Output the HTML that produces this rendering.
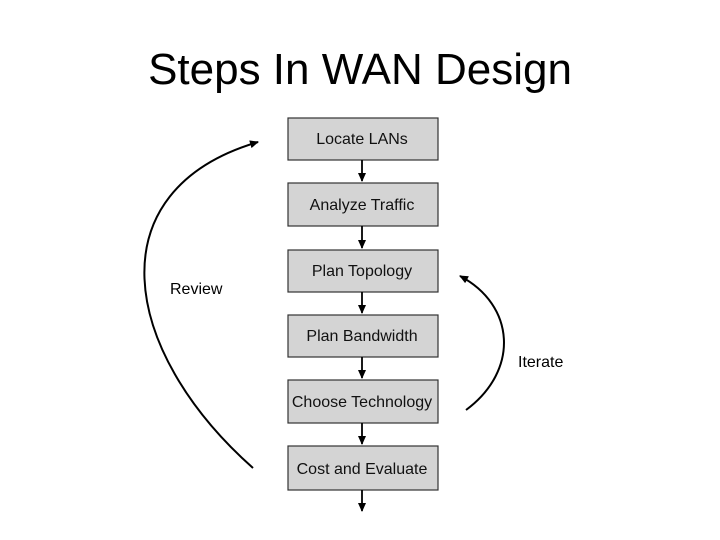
<!DOCTYPE html>
<html><head><style>
body{margin:0;background:#fff;}
svg{display:block}
text{font-family:"Liberation Sans",sans-serif;}
</style></head><body>
<svg width="720" height="540" viewBox="0 0 720 540">
<defs><marker id="a" markerWidth="10" markerHeight="10" refX="8" refY="5" orient="auto" markerUnits="userSpaceOnUse"><path d="M0,1 L9,5 L0,9 z" fill="#000"/></marker></defs>
<text x="360" y="84" font-size="44" text-anchor="middle">Steps In WAN Design</text>
<g fill="#d4d4d4" stroke="#333" stroke-width="1.2">
<rect x="288" y="118" width="150" height="42"/>
<rect x="288" y="183" width="150" height="43"/>
<rect x="288" y="250" width="150" height="42"/>
<rect x="288" y="315" width="150" height="42"/>
<rect x="288" y="380" width="150" height="43"/>
<rect x="288" y="446" width="150" height="44"/>
</g>
<g font-size="16" text-anchor="middle" fill="#111">
<text x="362" y="144">Locate LANs</text>
<text x="362" y="210">Analyze Traffic</text>
<text x="362" y="276">Plan Topology</text>
<text x="362" y="341">Plan Bandwidth</text>
<text x="362" y="407">Choose Technology</text>
<text x="362" y="474">Cost and Evaluate</text>
</g>
<g stroke="#000" stroke-width="1.8" marker-end="url(#a)">
<line x1="362" y1="160" x2="362" y2="181"/>
<line x1="362" y1="226" x2="362" y2="248"/>
<line x1="362" y1="292" x2="362" y2="313"/>
<line x1="362" y1="357" x2="362" y2="378"/>
<line x1="362" y1="423" x2="362" y2="444"/>
<line x1="362" y1="490" x2="362" y2="511"/>
</g>
<g fill="none" stroke="#000" stroke-width="2" marker-end="url(#a)">
<path d="M253,468 C120,350 95,190 258,142"/>
<path d="M466,410 C520,370 515,305 460,276"/>
</g>
<text x="170" y="294" font-size="16">Review</text>
<text x="518" y="367" font-size="16">Iterate</text>
</svg>
</body></html>
